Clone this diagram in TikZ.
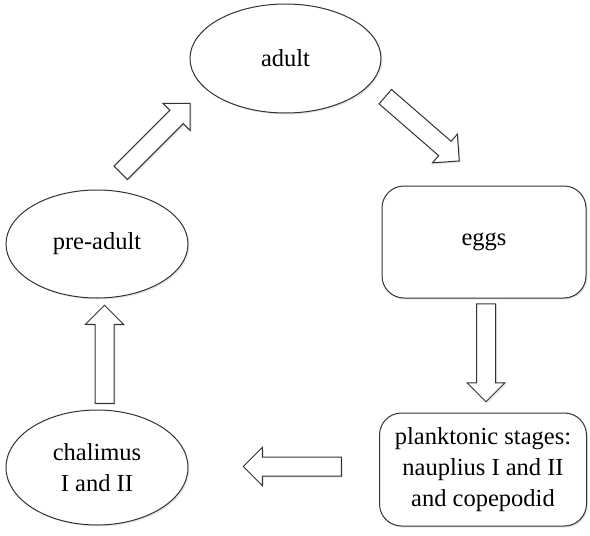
\documentclass[tikz,border=0pt]{standalone}
\usepackage{fontspec}
\setmainfont{Liberation Serif}
\usetikzlibrary{shapes.geometric,shapes.arrows,shadows}
\begin{document}
\begin{tikzpicture}[
		x=1pt, y=1pt,
		stage/.style={draw=black!80, line width=1pt, fill=white, inner sep=0pt, align=center,
			font=\fontsize{24.5}{31}\selectfont,
			drop shadow={shadow xshift=1.5pt, shadow yshift=-1.5pt, opacity=0.2}},
		oval/.style={stage, ellipse},
		box/.style={stage, rectangle, rounded corners=22pt},
		hollow/.style={stage, single arrow, inner xsep=0pt, inner ysep=9pt, minimum height=98pt,
			single arrow head extend=9.5pt}
	]
	\useasboundingbox (0,0) rectangle (590,-536);
	\node[oval, minimum width=191pt, minimum height=109pt] (adult) at (285.5,-58.5) {adult};
	\node[box, minimum width=204pt, minimum height=112pt] (eggs) at (484,-242) {eggs};
	\node[box, minimum width=207pt, minimum height=113pt] (plankton) at (483,-469.5)
		{planktonic stages:\\nauplius I and II\\and copepodid};
	\node[oval, minimum width=182pt, minimum height=115pt] (chalimus) at (97,-467.5) {chalimus\\I and II};
	\node[oval, minimum width=182pt, minimum height=108pt] (preadult) at (97,-244) {pre-adult};

	\node[hollow, rotate=-41] (a1) at (418.7,-125.7) {};
	\node[hollow, rotate=-90] (a2) at (486,-348) {};
	\node[hollow, rotate=180] (a3) at (297,-466.5) {};
	\node[hollow, rotate=90] (a4) at (104.5,-359) {};
	\node[hollow, rotate=45] (a5) at (152,-141.5) {};
\end{tikzpicture}
\end{document}
